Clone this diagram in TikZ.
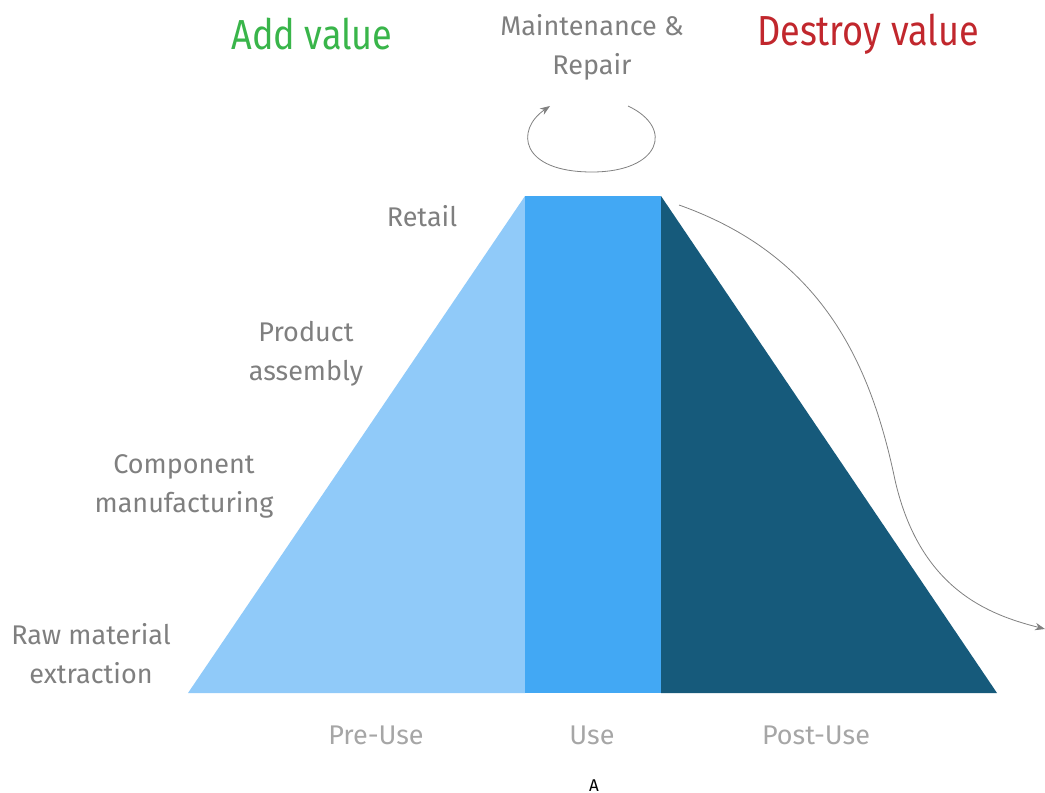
\documentclass[tikz,border=0pt]{standalone}
\usepackage{fontspec}
\setmainfont{Fira Sans}
\newfontfamily\titlefont{Fira Sans}[FakeStretch=0.86]
\usepackage{tikz}
\usetikzlibrary{arrows.meta}
\definecolor{preuse}{HTML}{90CAF9}
\definecolor{inuse}{HTML}{42A8F4}
\definecolor{postuse}{HTML}{165A7B}
\definecolor{addgreen}{HTML}{39B54A}
\definecolor{destroyred}{HTML}{C1272D}
\definecolor{labelgray}{HTML}{7F7F7F}
\definecolor{phasegray}{HTML}{A6A6A6}

\begin{document}
\begin{tikzpicture}[x=0.5pt, y=-0.5pt,
	stage/.style = {text=labelgray, align=center, font=\fontsize{13.5}{19.5}\selectfont},
	phase/.style = {text=phasegray, font=\fontsize{13.5}{19.5}\selectfont},
	title/.style = {font=\titlefont\fontsize{21}{25}\selectfont},
	flow/.style = {draw=gray, thin, -{Stealth[length=5pt]}}]
	\useasboundingbox (0,0) rectangle (1045,793);
	
	% the three parts of the life cycle
	\fill[preuse] (188,693) -- (525,196) -- (525,693) -- cycle;
	\fill[inuse] (525,196) rectangle (661,693);
	\fill[postuse] (661,196) -- (997,693) -- (661,693) -- cycle;
	
	\node[title, text=addgreen] (add) at (312,34) {Add value};
	\node[title, text=destroyred] (destroy) at (868,34) {Destroy value};
	\node[stage] (maint) at (592,47) {Maintenance \&\\Repair};
	
	\node[stage] (retail) at (422,216) {Retail};
	\node[stage] (assembly) at (306,354) {Product\\assembly};
	\node[stage] (component) at (184,486) {Component\\manufacturing};
	\node[stage] (raw) at (91,654) {Raw material\\extraction};
	
	\node[phase] (pre) at (376,735) {Pre-Use};
	\node[phase] (use) at (592,735) {Use};
	\node[phase] (post) at (816,735) {Post-Use};
	\node[font=\fontsize{8.5}{10}\selectfont, inner sep=0pt, anchor=base] (fig) at (594,791) {A};
	
	\coordinate (loopstart) at (628,106);
	\coordinate (loopend) at (550,106);
	\coordinate (top) at (679,205);
	\coordinate (out) at (1045,629);
	
	\draw[flow] (loopstart) .. controls (675,128) and (660,172) .. (592,172) .. controls (520,172) and (515,130) .. (loopend);
	\draw[flow] (top) .. controls (820,255) and (870,360) .. (895,480) .. controls (920,590) and (990,615) .. (out);
	
\end{tikzpicture}
\end{document}
